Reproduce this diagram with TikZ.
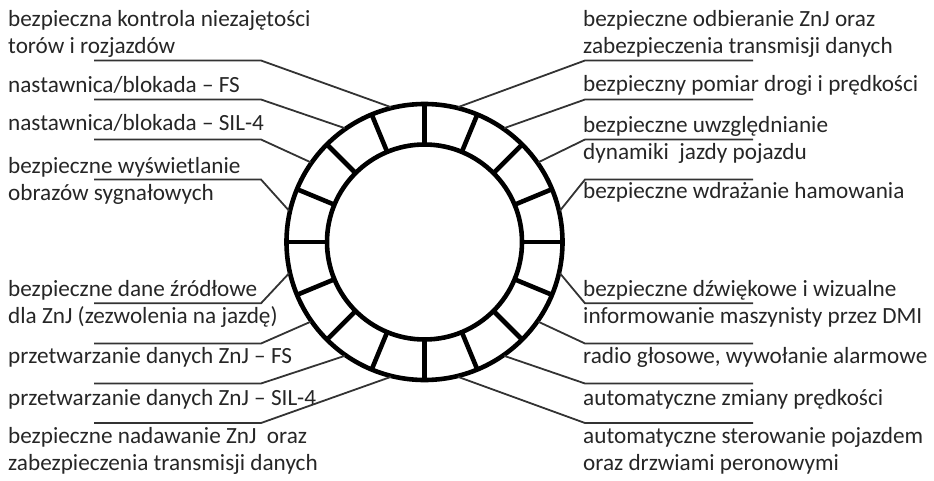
\documentclass[tikz,border=0pt]{standalone}
\usepackage{fontspec}
\setmainfont{Carlito}
\begin{document}
\begin{tikzpicture}[x=1pt, y=-1pt,
    opis/.style={anchor=base west, inner sep=0pt, align=left, text=black!85,
                 font=\fontsize{23.2}{27}\selectfont},
    linia/.style={line width=1.8pt, black!80},
    kolo/.style={line width=4.6pt}]
\useasboundingbox (0,0) rectangle (934,480);

% pierscien
\coordinate (c) at (424.5,242);
\draw[kolo] (c) circle[radius=138];
\draw[kolo] (c) circle[radius=97.5];
\foreach \a in {0,22.5,...,337.5}
  \draw[kolo] ([shift={(\a:97.5)}]c) -- ([shift={(\a:138)}]c);

% opisy po lewej (base = linia bazowa ostatniego wiersza)
\node[opis] (l1) at (8,53.3) {bezpieczna kontrola niezajętości\\torów i rozjazdów};
\node[opis] (l2) at (8,92.7) {nastawnica/blokada – FS};
\node[opis] (l3) at (8,130.7) {nastawnica/blokada – SIL-4};
\node[opis] (l4) at (8,200) {bezpieczne wyświetlanie\\obrazów sygnałowych};
\node[opis] (l5) at (8,323.3) {bezpieczne dane źródłowe\\dla ZnJ (zezwolenia na jazdę)};
\node[opis] (l6) at (8,363.3) {przetwarzanie danych ZnJ – FS};
\node[opis] (l7) at (8,405) {przetwarzanie danych ZnJ – SIL-4};
\node[opis] (l8) at (8,470) {bezpieczne nadawanie ZnJ\ \ oraz\\zabezpieczenia transmisji danych};

% opisy po prawej
\node[opis] (r1) at (583,53.3) {bezpieczne odbieranie ZnJ oraz\\zabezpieczenia transmisji danych};
\node[opis] (r2) at (583,91.7) {bezpieczny pomiar drogi i prędkości};
\node[opis] (r3) at (583,159.3) {bezpieczne uwzględnianie\\dynamiki\ \ jazdy pojazdu};
\node[opis] (r4) at (583,198.3) {bezpieczne wdrażanie hamowania};
\node[opis] (r5) at (583,323.3) {bezpieczne dźwiękowe i wizualne\\informowanie maszynisty przez DMI};
\node[opis] (r6) at (583,363.3) {radio głosowe, wywołanie alarmowe};
\node[opis] (r7) at (583,405) {automatyczne zmiany prędkości};
\node[opis] (r8) at (583,470) {automatyczne sterowanie pojazdem\\oraz drzwiami peronowymi};

% linie odniesienia
\foreach \n/\a/\y in {l1/-104/60.5, l2/-125/99.5, l3/-145/139.5, l4/-167/179.5,
                      l5/-193/303.3, l6/-215/343.5, l7/-235/383.5, l8/-256/423} {
  \coordinate (\n p) at ([shift={(\a:139)}]c);
  \coordinate (\n k) at (261,\y);
  \coordinate (\n e) at (94,\y);
  \draw[linia] (\n p) -- (\n k) -- (\n e);
}
\foreach \n/\a/\y in {r1/-76/60.5, r2/-55/99.5, r3/-35/139.5, r4/-13/179.5,
                      r5/13/303.3, r6/35/343.5, r7/55/383.5, r8/76/423} {
  \coordinate (\n p) at ([shift={(\a:139)}]c);
  \coordinate (\n k) at (585,\y);
  \coordinate (\n e) at (753,\y);
  \draw[linia] (\n p) -- (\n k) -- (\n e);
}
\end{tikzpicture}
\end{document}
